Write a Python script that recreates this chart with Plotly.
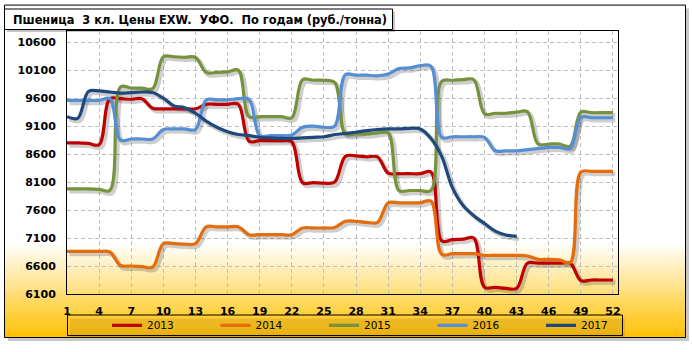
import plotly.graph_objects as go

# ---------------- data ----------------
weeks = list(range(1, 53))
x_ticks = list(range(1, 53, 3))
y_ticks = [6100, 6600, 7100, 7600, 8100, 8600, 9100, 9600, 10100, 10600]

series_names = ["2013", "2014", "2015", "2016", "2017"]

y2013 = [8800, 8800, 8790, 8770, 9590, 9590, 9580, 9590, 9420, 9410,
         9410, 9410, 9410, 9490, 9490, 9490, 9490, 8830, 8840, 8840,
         8840, 8820, 8090, 8090, 8080, 8100, 8560, 8570, 8550, 8550,
         8260, 8250, 8250, 8250, 8280, 7050, 7070, 7080, 7100, 6220,
         6220, 6200, 6200, 6650, 6650, 6650, 6650, 6650, 6340, 6350,
         6350, 6350]
y2014 = [6860, 6860, 6860, 6860, 6850, 6610, 6600, 6590, 6580, 7000,
         7000, 6990, 7000, 7300, 7300, 7300, 7300, 7160, 7160, 7160,
         7160, 7160, 7280, 7280, 7280, 7290, 7400, 7400, 7380, 7380,
         7730, 7730, 7730, 7730, 7760, 6810, 6820, 6820, 6820, 6790,
         6790, 6790, 6790, 6780, 6720, 6720, 6710, 6660, 8280, 8290,
         8290, 8290]
y2015 = [7980, 7980, 7980, 7970, 7950, 9800, 9780, 9780, 9770, 10340,
         10340, 10330, 10330, 10060, 10060, 10070, 10100, 9270, 9270, 9270,
         9270, 9250, 9930, 9920, 9920, 9880, 8960, 8960, 8960, 8980,
         8980, 7950, 7950, 7950, 7950, 9900, 9920, 9930, 9930, 9320,
         9330, 9330, 9350, 9360, 8780, 8780, 8780, 8740, 9350, 9340,
         9340, 9340]
y2016 = [9560, 9560, 9560, 9560, 9590, 8850, 8870, 8870, 8870, 9040,
         9050, 9050, 9040, 9570, 9570, 9570, 9590, 9580, 8930, 8930,
         8930, 8940, 9080, 9100, 9080, 9100, 10020, 10010, 10010, 10000,
         10030, 10130, 10140, 10180, 10170, 8900, 8910, 8910, 8910, 8900,
         8660, 8660, 8660, 8680, 8700, 8720, 8720, 8700, 9260, 9250,
         9250, 9250]
y2017 = [9270, 9240, 9720, 9730, 9710, 9690, 9700, 9710, 9700, 9600,
         9460, 9430, 9330, 9190, 9080, 9000, 8950, 8930, 8900, 8890,
         8880, 8880, 8890, 8900, 8910, 8950, 8970, 8990, 9020, 9040,
         9050, 9050, 9060, 9050, 8880, 8560, 8000, 7680, 7500, 7360,
         7225, 7155, 7130]

series_values = [y2013, y2014, y2015, y2016, y2017]
colors = ["#C00000", "#E46C0A", "#76923C", "#558ED5", "#1F497D"]

title_text = "Пшеница\u00a0 3 кл. Цены EXW.\u00a0 УФО.\u00a0 По годам (руб./тонна)"

# ---------------- layout geometry (pixels) ----------------
W, H = 692, 352
PL, PR, PT, PB = 67, 618, 31, 300   # plot area


def fx(px):
    return (px - PL) / (PR - PL)


def fy(py):
    return (PB - py) / (PB - PT)


def rect(x0, y0, x1, y1, fill="rgba(0,0,0,0)", line_color=None, lw=1):
    return dict(type="rect", xref="paper", yref="paper", layer="below",
                x0=fx(x0), x1=fx(x1), y0=fy(y1), y1=fy(y0),
                fillcolor=fill,
                line=dict(color=line_color or "rgba(0,0,0,0)", width=lw if line_color else 0))


shapes = []
# outer frame shadow + frame
shapes.append(rect(8, 8, 689, 348, fill="rgba(0,0,0,0.22)"))
shapes.append(rect(4.5, 4.5, 685.5, 344.5, fill="white"))
# gradient at the bottom
g0, g1 = 248, 344
n = 48
for i in range(n):
    t = (i + 0.5) / n
    r, g, b = 255, int(round(255 - t * (255 - 192))), int(round(255 - t * 255))
    ya = g0 + (g1 - g0) * i / n
    yb = g0 + (g1 - g0) * (i + 1) / n + 0.6
    shapes.append(rect(5, ya, 685, min(yb, g1), fill=f"rgb({r},{g},{b})"))
# frame border
shapes.append(rect(4.5, 4.5, 685.5, 344.5, line_color="black", lw=1))
# title box shadow + box
shapes.append(rect(7, 11, 395, 32, fill="rgba(0,0,0,0.22)"))
shapes.append(rect(4.5, 8.5, 392.5, 29.5, fill="white", line_color="black", lw=1))
# legend box shadow + box
shapes.append(rect(70, 325, 625, 345, fill="rgba(120,80,0,0.15)"))
shapes.append(rect(67.5, 321.5, 622.5, 342.5, line_color="black", lw=1))

fig = go.Figure()

# shadows (derived from the data, slightly offset)
for vals in series_values:
    fig.add_trace(go.Scatter(
        x=[w + 0.22 for w in weeks[:len(vals)]],
        y=[v - 45 for v in vals],
        mode="lines", line=dict(color="rgba(60,60,60,0.25)", width=4.5, shape="spline", smoothing=1.0),
        showlegend=False, hoverinfo="skip"))

for name, vals, col in zip(series_names, series_values, colors):
    fig.add_trace(go.Scatter(
        x=weeks[:len(vals)], y=vals, name=name, mode="lines",
        line=dict(color=col, width=3.2, shape="spline", smoothing=1.0)))

tick_font = dict(family="DejaVu Sans", size=11, color="black", weight="bold")

fig.update_layout(
    width=W, height=H,
    margin=dict(l=PL, r=W - PR, t=PT, b=H - PB, pad=0),
    paper_bgcolor="white",
    plot_bgcolor="rgba(0,0,0,0)",
    shapes=shapes,
    showlegend=True,
    legend=dict(orientation="h", x=fx(107), xanchor="left", y=fy(332), yanchor="middle",
                bgcolor="rgba(0,0,0,0)", borderwidth=0,
                font=dict(family="DejaVu Sans", size=10.5, color="black"),
                entrywidth=63.5, entrywidthmode="pixels", itemwidth=30),
    xaxis=dict(range=[1, 52.47], tickvals=x_ticks, ticktext=[str(v) for v in x_ticks],
               showgrid=True, gridcolor="#BFBFBF", griddash="4px,3px", gridwidth=1,
               showline=True, linecolor="black", linewidth=1, mirror=True,
               ticks="outside", ticklen=7, tickcolor="rgba(0,0,0,0)",
               tickfont=tick_font, zeroline=False, fixedrange=True),
    yaxis=dict(range=[6100, 10800], tickvals=y_ticks, ticktext=[str(v) for v in y_ticks],
               showgrid=True, gridcolor="#BFBFBF", griddash="4px,3px", gridwidth=1,
               showline=True, linecolor="black", linewidth=1, mirror=True,
               ticks="outside", ticklen=8, tickcolor="rgba(0,0,0,0)",
               tickfont=tick_font, zeroline=False, fixedrange=True),
    yaxis2=dict(range=[6100, 10800], tickvals=y_ticks, ticktext=[str(v) for v in y_ticks],
                overlaying="y", side="right", anchor="x", showgrid=False, showline=False,
                ticks="outside", ticklen=11, tickcolor="rgba(0,0,0,0)",
                tickfont=tick_font, zeroline=False, fixedrange=True),
    annotations=[dict(text=title_text, xref="paper", yref="paper", x=fx(11), y=fy(19.5),
                      xanchor="left", yanchor="middle", showarrow=False,
                      font=dict(family="DejaVu Sans", size=11.4, color="black", weight="bold"))],
)

fig.write_html("out.html")
